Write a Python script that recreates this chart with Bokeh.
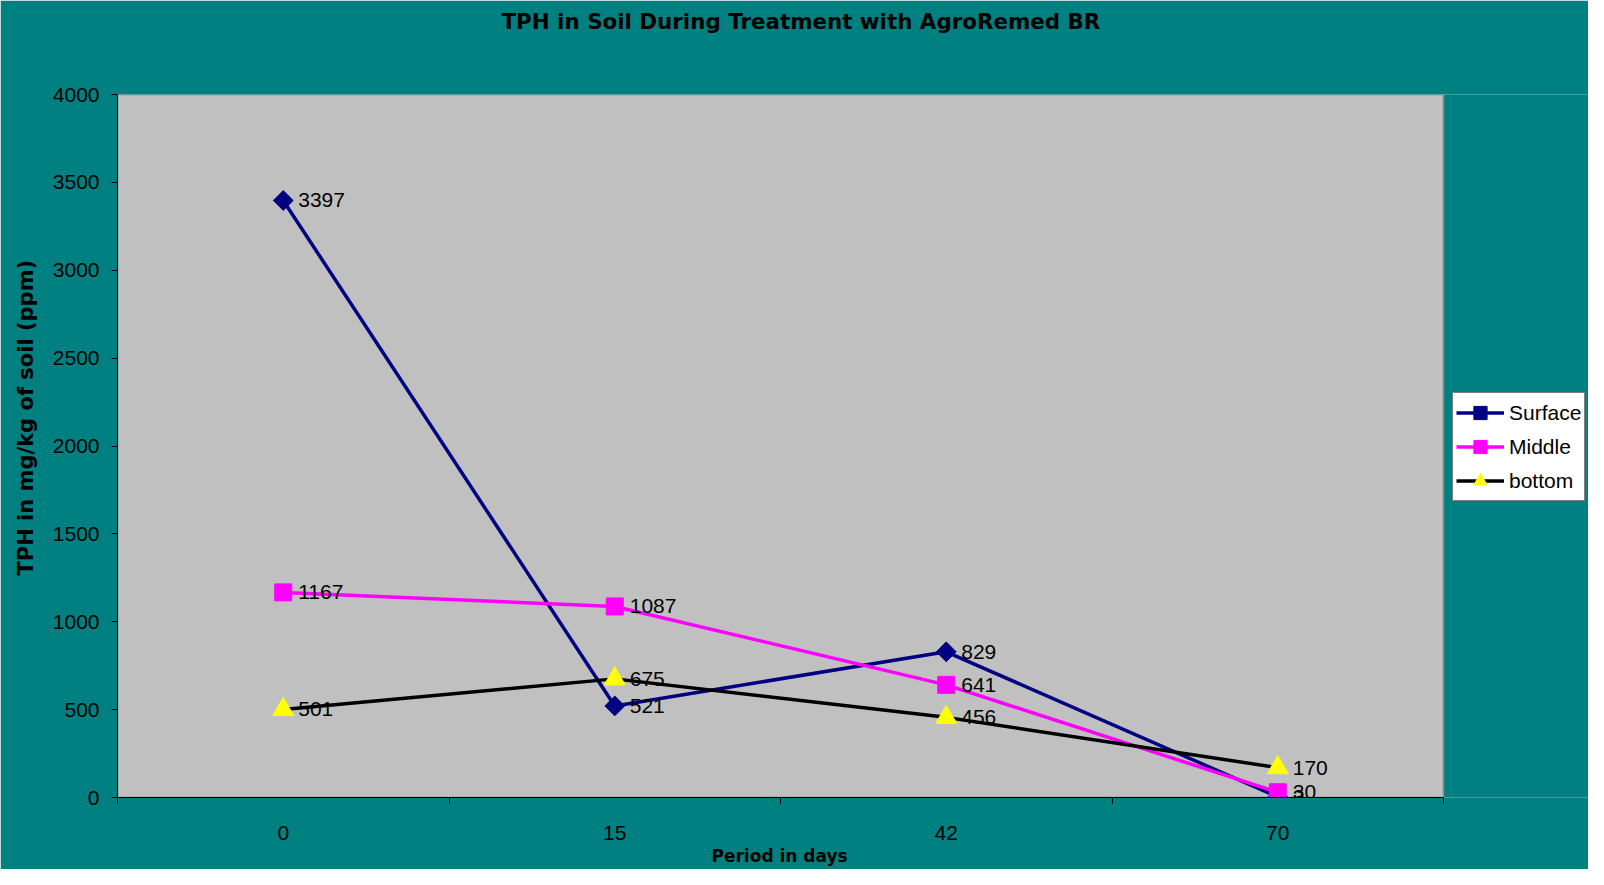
import math
from bokeh.plotting import figure
from bokeh.models import (Range1d, FixedTicker, Legend, LegendItem, ColumnDataSource,
                          Title, BoxAnnotation)
from bokeh.core.properties import value
from bokeh.embed import file_html
from bokeh.resources import INLINE

# ---- data ----
days = ["0", "15", "42", "70"]
surface = [3397, 521, 829, 3]
middle = [1167, 1087, 641, 30]
bottom = [501, 675, 456, 170]
series_names = ["Surface", "Middle", "bottom"]
y_ticks = [0, 500, 1000, 1500, 2000, 2500, 3000, 3500, 4000]
title_text = "TPH in Soil During Treatment with AgroRemed BR"
x_label = "Period in days"
y_label = "TPH in mg/kg of soil (ppm)"

TEAL = "#008080"
PLOT_BG = "#C0C0C0"
FONT = "Liberation Sans"
BOLD_FONT = "DejaVu Sans"

W, H = 1588, 869
LEFT, PLOT_RIGHT = 117, 1443          # grey plot area spans these pixels
n = len(days)
xpos = [i + 0.5 for i in range(n)]
# the Bokeh frame runs to the right edge so the legend can sit beside the plot area
x_end = n * (W - LEFT) / (PLOT_RIGHT - LEFT)

p = figure(width=W, height=H, output_backend="svg", toolbar_location=None,
           x_range=Range1d(0, x_end), y_range=Range1d(0, 4000),
           min_border_left=LEFT, min_border_right=0, min_border_top=94,
           min_border_bottom=72)
p.background_fill_color = TEAL
p.border_fill_color = TEAL
p.outline_line_color = None
p.xgrid.visible = False
p.ygrid.visible = False

# grey plot area with its grey border
p.add_layout(BoxAnnotation(left=0, right=n, bottom=0, top=4000,
                           fill_color=PLOT_BG, fill_alpha=1.0,
                           line_color="#808080", line_width=3, level="underlay"))

# axes
p.xaxis.bounds = (0, n)
p.xaxis.ticker = FixedTicker(ticks=xpos, minor_ticks=list(range(n + 1)))
p.xaxis.major_label_overrides = {x: d for x, d in zip(xpos, days)}
p.xaxis.major_tick_out = 0
p.xaxis.major_tick_in = 0
p.xaxis.minor_tick_out = 6
p.xaxis.minor_tick_in = 0
p.xaxis.minor_tick_line_color = "black"
p.xaxis.major_label_standoff = 22

p.yaxis.ticker = FixedTicker(ticks=y_ticks, minor_ticks=[])
p.yaxis.major_tick_out = 6
p.yaxis.major_tick_in = 0
p.yaxis.major_label_standoff = 12

for ax in (p.xaxis[0], p.yaxis[0]):
    ax.axis_line_color = "black"
    ax.axis_line_width = 1
    ax.major_tick_line_color = "black"
    ax.major_label_text_font = FONT
    ax.major_label_text_font_size = "21px"
    ax.major_label_text_color = "black"

# axis titles placed beside the axes (offsets keep them under / beside the grey area)
p.add_layout(Title(text=x_label, align="left", offset=594, vertical_align="middle",
                   standoff=4, text_font=BOLD_FONT, text_font_style="bold",
                   text_font_size="17px", text_color="black"), "below")
p.add_layout(Title(text=y_label, align="left", offset=222, vertical_align="middle",
                   standoff=21, text_font=BOLD_FONT, text_font_style="bold",
                   text_font_size="21px", text_color="black"), "left")

styles = [
    (surface, "#000080", "square", 14, "#000080", math.pi / 4),
    (middle, "#FF00FF", "square", 17, "#FF00FF", 0.0),
    (bottom, "black", "triangle", 21, "#FFFF00", 0.0),
]

items = []
for name, (vals, lc, marker, size, mc, ang) in zip(series_names, styles):
    src = ColumnDataSource(dict(x=xpos, y=vals, t=[str(v) for v in vals]))
    ln = p.line("x", "y", source=src, line_color=lc, line_width=3.5)
    sc = p.scatter("x", "y", source=src, marker=marker, size=size, angle=ang,
                   fill_color=mc, line_color=mc)
    p.text("x", "y", text="t", source=src, x_offset=15, text_align="left",
           text_baseline="middle", text_font=value(FONT), text_font_size="21px",
           text_color="black")
    items.append(LegendItem(label=name, renderers=[ln, sc]))

legend = Legend(items=items, location=(1452 - LEFT, 296), orientation="vertical",
                glyph_width=48, glyph_height=33, label_height=33,
                label_standoff=5, padding=3, spacing=1, margin=0,
                label_text_font=FONT, label_text_font_size="21px",
                label_text_color="black",
                background_fill_color="white", background_fill_alpha=1.0,
                border_line_color="black", border_line_width=1)
p.add_layout(legend, "center")

# spacer (nearest the frame) then the real title on top of it
p.title.text = ""
spacer = Title(text=" ", standoff=35, text_font_size="21px", text_color=TEAL)
p.add_layout(spacer, "above")
title = Title(text=title_text, align="left", offset=384, vertical_align="middle",
              standoff=0, text_font=BOLD_FONT, text_font_style="bold",
              text_font_size="21.4px", text_color="black")
p.add_layout(title, "above")

open("out.html", "w").write(file_html(p, INLINE))
